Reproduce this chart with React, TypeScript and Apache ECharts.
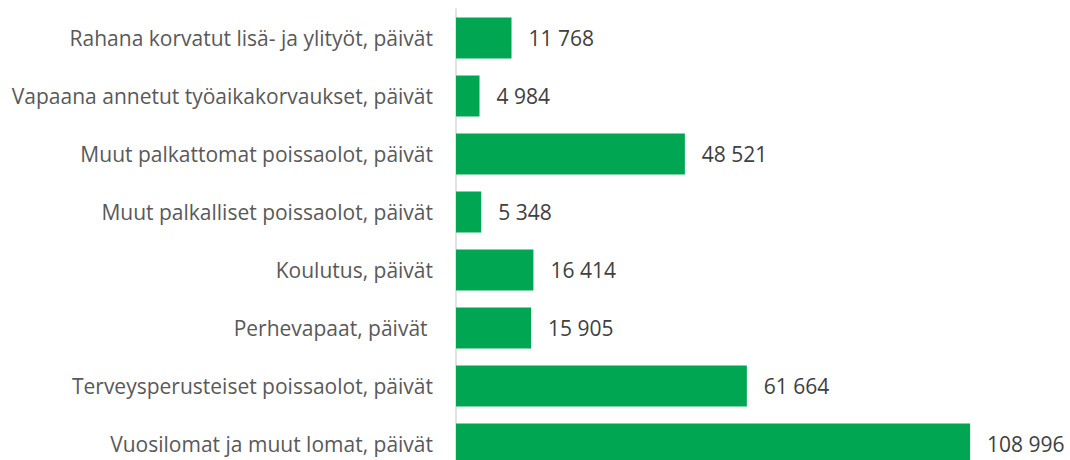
import React, { useEffect, useRef } from "react";
import * as echarts from "echarts";

const categories = [
  "Vuosilomat ja muut lomat, päivät",
  "Terveysperusteiset poissaolot, päivät",
  "Perhevapaat, päivät ",
  "Koulutus, päivät",
  "Muut palkalliset poissaolot, päivät",
  "Muut palkattomat poissaolot, päivät",
  "Vapaana annetut työaikakorvaukset, päivät",
  "Rahana korvatut lisä- ja ylityöt, päivät",
];
const values = [108996, 61664, 15905, 16414, 5348, 48521, 4984, 11768];

const fmt = (v: number) => String(v).replace(/\B(?=(\d{3})+(?!\d))/g, " ");

export default function App() {
  const ref = useRef<HTMLDivElement>(null);
  useEffect(() => {
    const chart = echarts.init(ref.current!, null, { renderer: "svg" });
    chart.setOption({
      animation: false,
      grid: {
        left: 456,
        top: 9,
        width: 566,
        height: 464,
        containLabel: false,
        outerBoundsMode: "none",
      },
      xAxis: {
        type: "value",
        min: 0,
        max: 120000,
        show: false,
      },
      yAxis: {
        type: "category",
        data: categories,
        axisLine: { show: true, lineStyle: { color: "#d9d9d9", width: 1.5 } },
        axisTick: { show: false },
        axisLabel: {
          margin: 23,
          color: "#595959",
          fontSize: 21,
          fontFamily: "Open Sans",
        },
        splitLine: { show: false },
      },
      series: [
        {
          type: "bar",
          data: values,
          barWidth: 41,
          itemStyle: { color: "#00A651" },
          label: {
            show: true,
            position: "right",
            distance: 17,
            color: "#404040",
            fontSize: 21,
            fontFamily: "Open Sans",
            formatter: (p: any) => fmt(p.value),
          },
        },
      ],
    });
    return () => chart.dispose();
  }, []);
  return <div ref={ref} style={{ width: 1070, height: 460, position: "absolute", left: 0, top: 0 }} />;
}
